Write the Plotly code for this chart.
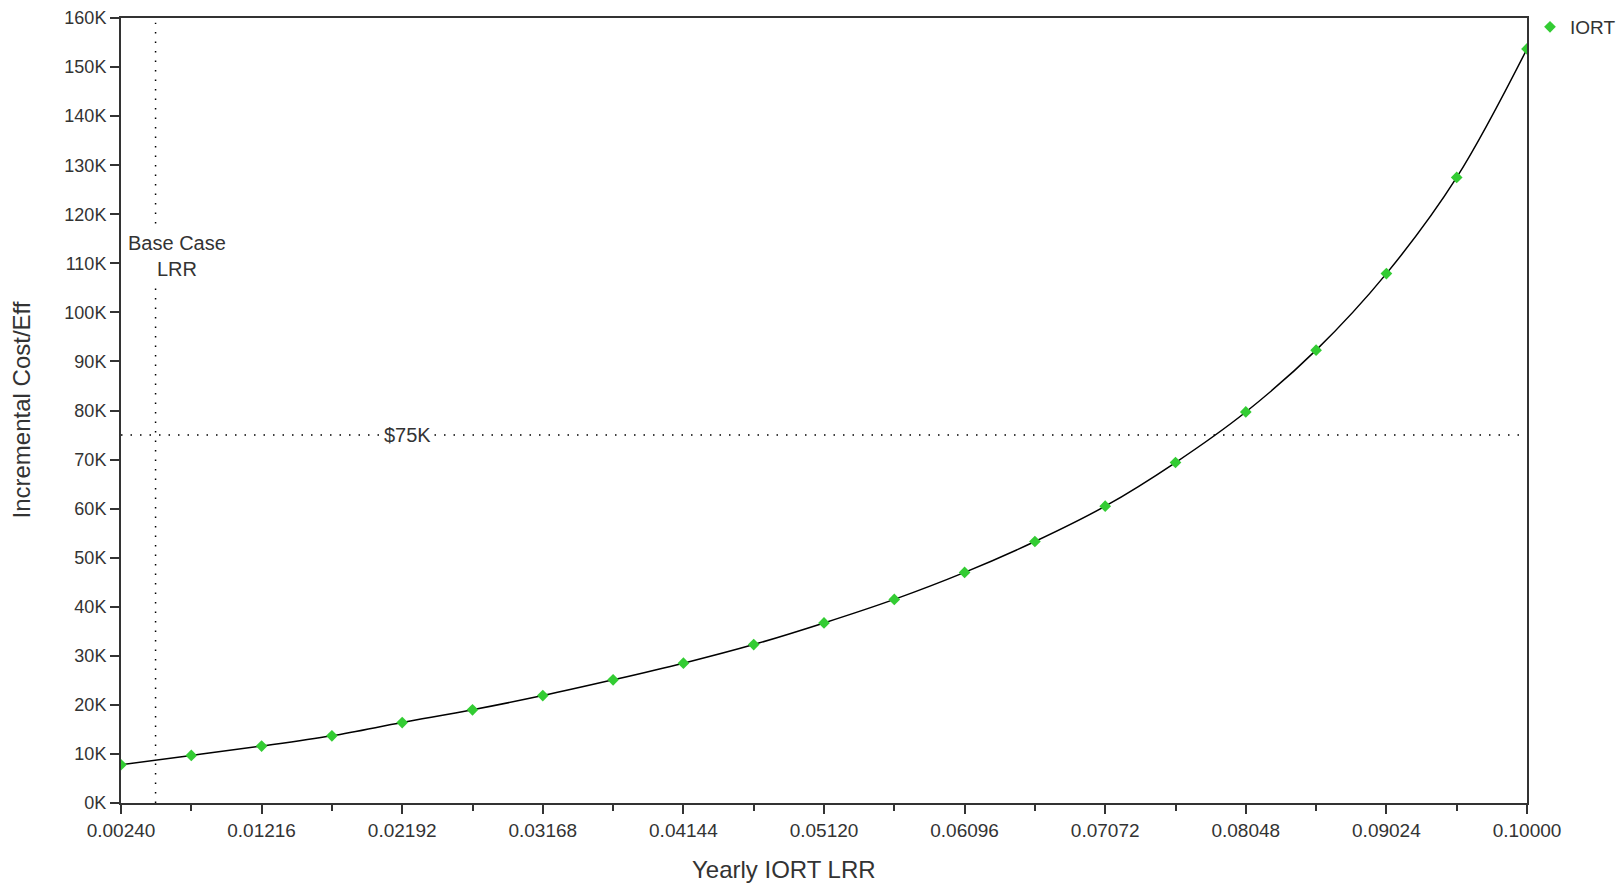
import plotly.graph_objects as go

# Yearly IORT local recurrence rate (x) vs incremental cost-effectiveness (y)
lrr = [0.00240, 0.00728, 0.01216, 0.01704, 0.02192, 0.02680, 0.03168,
       0.03656, 0.04144, 0.04632, 0.05120, 0.05608, 0.06096, 0.06584,
       0.07072, 0.07560, 0.08048, 0.08536, 0.09024, 0.09512, 0.10000]
icer = [7800, 9700, 11600, 13700, 16400, 19000, 21900,
        25100, 28500, 32300, 36700, 41500, 47000, 53300,
        60500, 69400, 79700, 92300, 107900, 127500, 153700]

x_ticks = [0.00240, 0.01216, 0.02192, 0.03168, 0.04144, 0.05120,
           0.06096, 0.07072, 0.08048, 0.09024, 0.10000]
x_ticktext = ["0.00240", "0.01216", "0.02192", "0.03168", "0.04144", "0.05120",
              "0.06096", "0.07072", "0.08048", "0.09024", "0.10000"]
y_ticks = [0, 10000, 20000, 30000, 40000, 50000, 60000, 70000, 80000,
           90000, 100000, 110000, 120000, 130000, 140000, 150000, 160000]
y_ticktext = ["0K", "10K", "20K", "30K", "40K", "50K", "60K", "70K", "80K",
              "90K", "100K", "110K", "120K", "130K", "140K", "150K", "160K"]

base_case_lrr = 0.0048
wtp_threshold = 75000

FONT = "Liberation Sans, Arial, sans-serif"
INK = "#333333"

W, H = 1623, 884
ML, MR, MT, MB = 121, 96, 18, 81
PW, PH = W - ML - MR, H - MT - MB

fig = go.Figure()

fig.add_trace(go.Scatter(
    x=lrr, y=icer, mode="lines", line=dict(color="black", width=1.5, shape="spline"),
    showlegend=False, hoverinfo="skip",
))
fig.add_trace(go.Scatter(
    x=lrr, y=icer, mode="markers", name="IORT",
    marker=dict(symbol="diamond", size=9, color="#33cc33"),
))

# reference lines: base-case LRR and $75K willingness-to-pay
fig.add_shape(type="line", xref="x", yref="paper", x0=base_case_lrr, x1=base_case_lrr,
              y0=0, y1=0.994, line=dict(color="black", width=1.5, dash="1.5px,8px"))
fig.add_shape(type="line", xref="paper", yref="y", x0=0, x1=1,
              y0=wtp_threshold, y1=wtp_threshold,
              line=dict(color="black", width=1.5, dash="1.5px,8px"))

fig.add_annotation(x=0.00629, y=111400, xref="x", yref="y", text="Base Case<br>LRR",
                   showarrow=False, bgcolor="white", font=dict(family=FONT, size=20, color=INK))
fig.add_annotation(x=0.02227, y=wtp_threshold, xref="x", yref="y", text="$75K",
                   showarrow=False, bgcolor="white", font=dict(family=FONT, size=20, color=INK))

# axis titles
fig.add_annotation(x=(784 - ML) / PW, y=-(869 - (H - MB)) / PH, xref="paper", yref="paper",
                   xanchor="center", yanchor="middle", text="Yearly IORT LRR",
                   showarrow=False, font=dict(family=FONT, size=24, color=INK))
fig.add_annotation(x=-(ML - 21) / PW, y=0.5, xref="paper", yref="paper",
                   xanchor="center", yanchor="middle",
                   text="Incremental Cost/Eff", textangle=-90, showarrow=False,
                   font=dict(family=FONT, size=24, color=INK))

axis_common = dict(showline=True, linecolor=INK, linewidth=2, mirror=True,
                   ticks="outside", tickcolor=INK, tickwidth=1.5, showgrid=False,
                   zeroline=False, automargin=False)

fig.update_xaxes(range=[0.0024, 0.1], tickvals=x_ticks, ticktext=x_ticktext, ticklen=9,
                 tickfont=dict(family=FONT, size=19, color=INK),
                 minor=dict(ticks="outside", ticklen=6, tickcolor=INK, tickwidth=1.5,
                            tickmode="linear", tick0=0.0024, dtick=0.00488, showgrid=False),
                 **axis_common)
fig.update_yaxes(range=[0, 160000], tickvals=y_ticks, ticktext=y_ticktext, ticklen=9,
                 tickfont=dict(family=FONT, size=18, color=INK),
                 **axis_common)

fig.update_layout(
    width=W, height=H,
    margin=dict(l=ML, r=MR, t=MT, b=MB, autoexpand=False),
    plot_bgcolor="white", paper_bgcolor="white",
    font=dict(family=FONT, color=INK),
    legend=dict(xref="container", yref="container", x=1530 / W, y=1 - 8 / H,
                xanchor="left", yanchor="top",
                font=dict(family=FONT, size=19, color=INK), bgcolor="rgba(0,0,0,0)"),
)

fig.write_html("out.html")
